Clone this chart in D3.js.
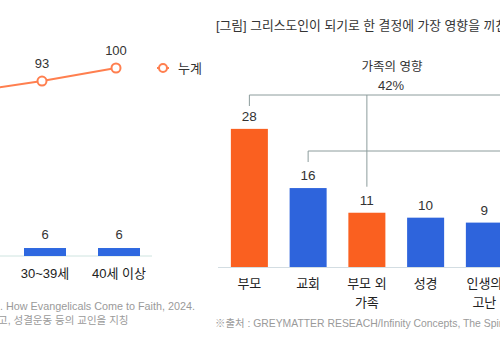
<!DOCTYPE html>
<html>
<head>
<meta charset="utf-8">
<script src="https://cdn.jsdelivr.net/npm/d3@7"></script>
<style>
  body { margin: 0; background: #fff; }
  text { font-family: "Liberation Sans", "Noto Sans CJK KR", sans-serif; }
</style>
</head>
<body>
<div id="chart"></div>
<script>
// left chart (cropped): age groups, new believers per group and running total
var ageGroups = ["20~29세", "30~39세", "40세 이상"];
var ageBarGroups = ["30~39세", "40세 이상"];
var ageBarValues = [6, 6];
var cumulativeValues = [87, 93, 100];

// right chart: most influential factor in becoming a Christian
var factors = ["부모", "교회", "부모 외 가족", "성경", "인생의 고난"];
var factorLines = [["부모"], ["교회"], ["부모 외", "가족"], ["성경"], ["인생의", "고난"]];
var factorValues = [28, 16, 11, 10, 9];
var factorColors = ["#fa6020", "#2e64dc", "#fa6020", "#2e64dc", "#2e64dc"];

var orange = "#ff7f4f";
var blue = "#2e68e0";

var svg = d3.select("#chart")
            .append("svg")
            .attr("width", 500)
            .attr("height", 340);

// ---------- left chart ----------
var xLeft = d3.scalePoint()
              .domain(ageGroups)
              .range([-29, 119]);

var yBar = d3.scaleLinear()
             .domain([0, 100])
             .range([256, 123]);

var yLine = d3.scaleLinear()
              .domain([0, 100])
              .range([254, 68]);

svg.append("line")
   .attr("x1", 0).attr("x2", 152)
   .attr("y1", 256).attr("y2", 256)
   .attr("stroke", "#cfe4e0")
   .attr("stroke-width", 1);

svg.selectAll(".agebar")
   .data(ageBarGroups)
   .enter().append("rect")
   .attr("x", function(d) { return xLeft(d) - 21; })
   .attr("width", 42)
   .attr("y", function(d, i) { return yBar(ageBarValues[i]); })
   .attr("height", function(d, i) { return yBar(0) - yBar(ageBarValues[i]); })
   .attr("fill", blue);

svg.selectAll(".agebarlabel")
   .data(ageBarGroups)
   .enter().append("text")
   .attr("x", function(d) { return xLeft(d); })
   .attr("y", function(d, i) { return yBar(ageBarValues[i]) - 9; })
   .attr("text-anchor", "middle")
   .attr("font-size", 13)
   .attr("fill", "#333")
   .text(function(d, i) { return ageBarValues[i]; });

svg.selectAll(".agecat")
   .data(ageBarGroups)
   .enter().append("text")
   .attr("x", function(d) { return xLeft(d); })
   .attr("y", 278)
   .attr("text-anchor", "middle")
   .attr("font-size", 13)
   .attr("fill", "#222")
   .text(function(d) { return d; });

var lineShift = -3;
var line = d3.line()
             .x(function(d, i) { return xLeft(ageGroups[i]) + lineShift; })
             .y(function(d) { return yLine(d); });

svg.append("path")
   .datum(cumulativeValues)
   .attr("d", line)
   .attr("fill", "none")
   .attr("stroke", orange)
   .attr("stroke-width", 2);

svg.selectAll(".dot")
   .data(cumulativeValues)
   .enter().append("circle")
   .attr("cx", function(d, i) { return xLeft(ageGroups[i]) + lineShift; })
   .attr("cy", function(d) { return yLine(d); })
   .attr("r", 4.5)
   .attr("fill", "#fff")
   .attr("stroke", orange)
   .attr("stroke-width", 2);

svg.selectAll(".dotlabel")
   .data(cumulativeValues)
   .enter().append("text")
   .attr("x", function(d, i) { return xLeft(ageGroups[i]) + lineShift; })
   .attr("y", function(d) { return yLine(d) - 13; })
   .attr("text-anchor", "middle")
   .attr("font-size", 13)
   .attr("fill", "#333")
   .text(function(d) { return d; });

// legend
svg.append("line")
   .attr("x1", 157).attr("x2", 169)
   .attr("y1", 68).attr("y2", 68)
   .attr("stroke", orange).attr("stroke-width", 2);
svg.append("circle")
   .attr("cx", 163).attr("cy", 68).attr("r", 4)
   .attr("fill", "#fff").attr("stroke", orange).attr("stroke-width", 2);
svg.append("text")
   .attr("x", 178).attr("y", 72.5)
   .attr("font-size", 13)
   .attr("fill", "#333")
   .text("누계");

svg.append("text")
   .attr("x", 0).attr("y", 310)
   .attr("font-size", 10.8)
   .attr("fill", "#9a9a9a")
   .text(". How Evangelicals Come to Faith, 2024.");
svg.append("text")
   .attr("x", -2).attr("y", 323.5)
   .attr("font-size", 10.5)
   .attr("fill", "#9a9a9a")
   .text("고, 성결운동 등의 교인을 지칭");

// ---------- right chart ----------
svg.append("text")
   .attr("x", 216).attr("y", 30)
   .attr("font-size", 12.8)
   .attr("fill", "#333")
   .text("[그림] 그리스도인이 되기로 한 결정에 가장 영향을 끼친 요인");

var xRight = d3.scaleBand()
               .domain(factors)
               .range([220, 220 + 58.75 * factors.length])
               .paddingInner(0.37)
               .paddingOuter(0.185);

var yRight = d3.scaleLinear()
               .domain([0, 30])
               .range([267, 119]);

function mid(name) { return xRight(name) + xRight.bandwidth() / 2; }

svg.append("line")
   .attr("x1", 218).attr("x2", 500)
   .attr("y1", 267.5).attr("y2", 267.5)
   .attr("stroke", "#d3dde2")
   .attr("stroke-width", 1);

svg.selectAll(".fbar")
   .data(factors)
   .enter().append("rect")
   .attr("x", function(d) { return xRight(d); })
   .attr("width", xRight.bandwidth())
   .attr("y", function(d, i) { return yRight(factorValues[i]); })
   .attr("height", function(d, i) { return yRight(0) - yRight(factorValues[i]); })
   .attr("fill", function(d, i) { return factorColors[i]; });

svg.selectAll(".fbarlabel")
   .data(factors)
   .enter().append("text")
   .attr("x", function(d) { return mid(d); })
   .attr("y", function(d, i) { return yRight(factorValues[i]) - 8; })
   .attr("text-anchor", "middle")
   .attr("font-size", 13.5)
   .attr("fill", "#333")
   .text(function(d, i) { return factorValues[i]; });

var cats = svg.selectAll(".fcat")
   .data(factors)
   .enter().append("text")
   .attr("text-anchor", "middle")
   .attr("font-size", 13)
   .attr("fill", "#222");

cats.selectAll("tspan")
    .data(function(d, i) { return factorLines[i].map(function(t) { return { name: d, t: t }; }); })
    .enter().append("tspan")
    .attr("x", function(d) { return mid(d.name); })
    .attr("y", function(d, j) { return 288 + j * 19; })
    .text(function(d) { return d.t; });

// group brackets
var bracketColor = "#8c9c9c";
var familyY = 95;
var churchY = 151;

svg.append("path")
   .attr("d", "M" + mid("부모") + "," + (familyY + 11) + "V" + familyY + "H520")
   .attr("fill", "none").attr("stroke", bracketColor).attr("stroke-width", 1);
svg.append("line")
   .attr("x1", mid("부모 외 가족")).attr("x2", mid("부모 외 가족"))
   .attr("y1", familyY).attr("y2", yRight(factorValues[2]) - 26)
   .attr("stroke", bracketColor).attr("stroke-width", 1);
svg.append("path")
   .attr("d", "M" + mid("교회") + "," + (churchY + 11) + "V" + churchY + "H520")
   .attr("fill", "none").attr("stroke", bracketColor).attr("stroke-width", 1);

svg.append("text")
   .attr("x", 392).attr("y", 71)
   .attr("text-anchor", "middle")
   .attr("font-size", 12.5)
   .attr("fill", "#333")
   .text("가족의 영향");
svg.append("text")
   .attr("x", 391).attr("y", 90)
   .attr("text-anchor", "middle")
   .attr("font-size", 13)
   .attr("fill", "#333")
   .text("42%");

svg.append("text")
   .attr("x", 215).attr("y", 327)
   .attr("font-size", 10.4)
   .attr("fill", "#9a9a9a")
   .text("※출처 : GREYMATTER RESEACH/Infinity Concepts, The Spiritual State");
</script>
</body>
</html>
